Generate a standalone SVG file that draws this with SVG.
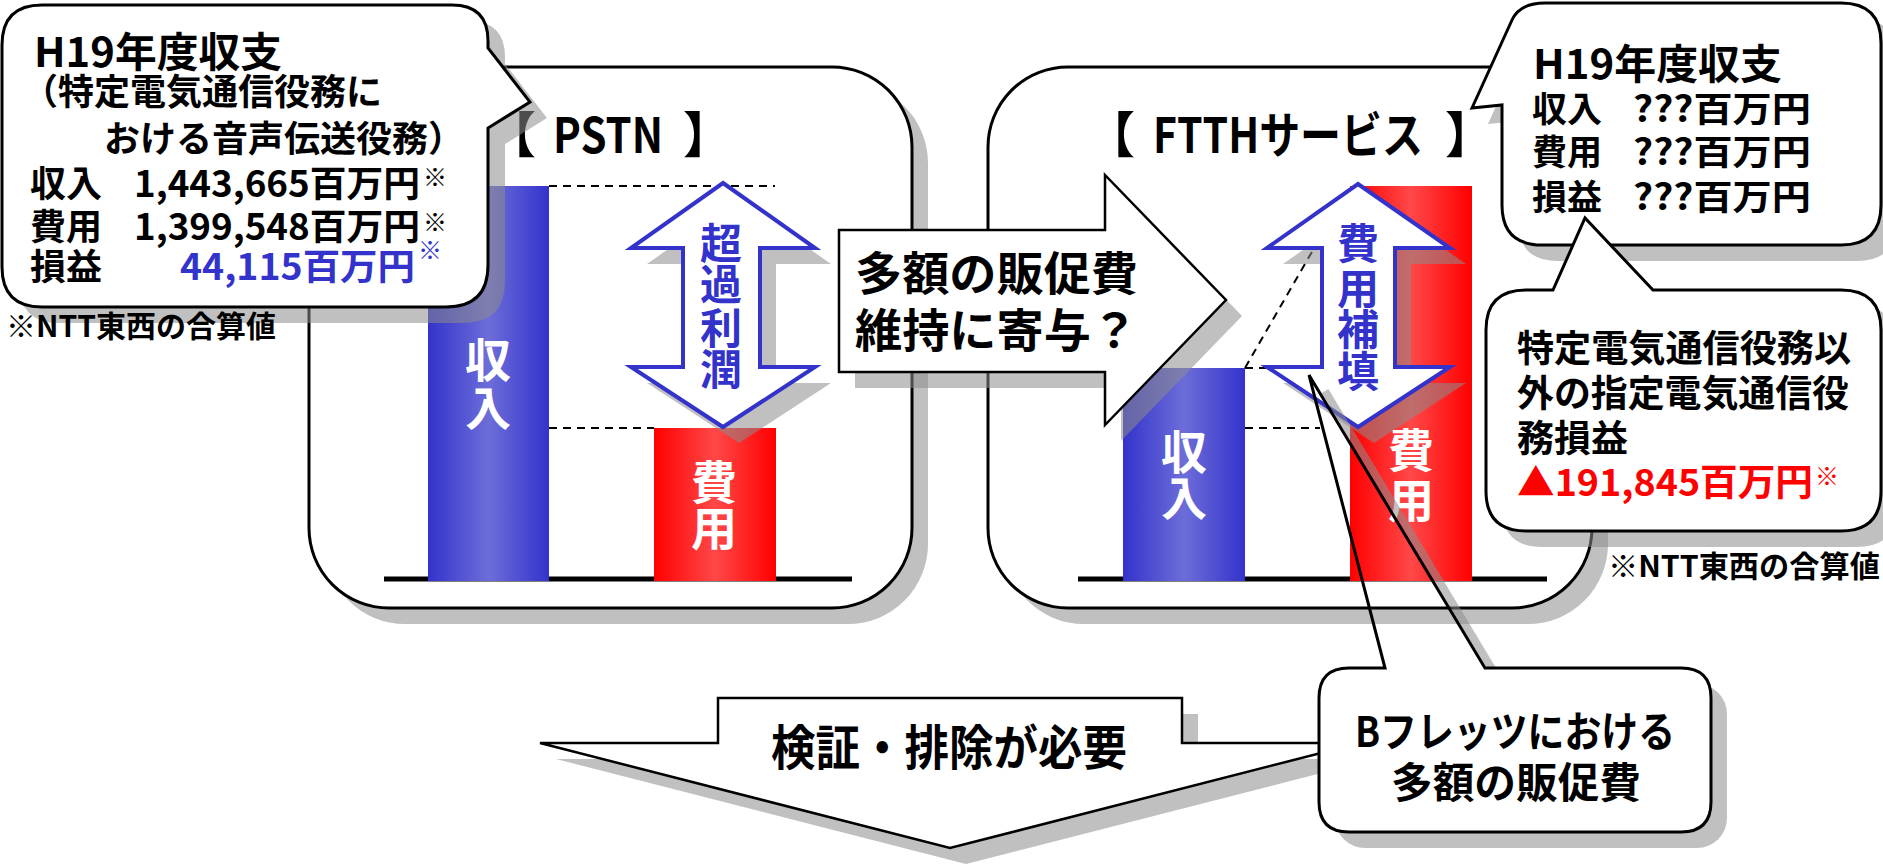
<svg xmlns="http://www.w3.org/2000/svg" width="1883" height="866" viewBox="0 0 1883 866">
<defs>
<linearGradient id="gb" x1="0" x2="1" y1="0" y2="0">
<stop offset="0" stop-color="#3333cc"/><stop offset="0.5" stop-color="#6d6dd9"/><stop offset="1" stop-color="#3333cc"/>
</linearGradient>
<linearGradient id="gr" x1="0" x2="1" y1="0" y2="0">
<stop offset="0" stop-color="#ff0000"/><stop offset="0.5" stop-color="#ff4848"/><stop offset="1" stop-color="#ff0000"/>
</linearGradient>
<style>
text{font-family:"Noto Sans CJK JP","Noto Sans",sans-serif;font-weight:700;fill:#000}
.sh{fill:#8c8c8c;opacity:.55}
.shl{fill:none;stroke:#8c8c8c;opacity:.55;stroke-width:8}
.box{fill:#fff;stroke:#000;stroke-width:3}
.arr{fill:#fff;stroke:#000;stroke-width:2.5}
.darr{fill:#fff;stroke:#3333cc;stroke-width:4;stroke-linejoin:miter}
.base{stroke:#000;stroke-width:5}
.dash{stroke:#000;stroke-width:2;stroke-dasharray:8 6;fill:none}
.w{fill:#fff;font-size:46px;text-anchor:middle}
.bt{fill:#3333cc;font-size:42px;text-anchor:middle}
.bl{fill:#3333cc}
.rd{fill:#ff0000}
.ttl{font-size:49px}
.sup{font-size:24px}
</style>
</defs>
<rect width="1883" height="866" fill="#fff"/>

<!-- PSTN panel -->
<g id="pstn">
<rect class="sh" x="325" y="83" width="603" height="541" rx="80"/>
<rect class="box" x="309" y="67" width="603" height="541" rx="80"/>
<text class="ttl" y="153"><tspan x="487">【</tspan><tspan x="553" textLength="110" lengthAdjust="spacingAndGlyphs">PSTN</tspan><tspan x="683">】</tspan></text>
<line class="base" x1="384" y1="579" x2="852" y2="579"/>
<rect x="428" y="186" width="121" height="395" fill="url(#gb)"/>
<rect x="654" y="428" width="122" height="153" fill="url(#gr)"/>
<path class="dash" d="M549,186H775M549,428H654"/>
<polygon class="sh" transform="translate(16,16)" points="723,183 815,248 760,248 760,367 815,367 723,427 631,367 683,367 683,248 631,248"/>
<polygon class="darr" points="723,183 815,248 760,248 760,367 815,367 723,427 631,367 683,367 683,248 631,248"/>
<text class="bt"><tspan x="721" y="259">超</tspan><tspan x="721" y="300">過</tspan><tspan x="721" y="344">利</tspan><tspan x="721" y="385">潤</tspan></text>
<text class="w"><tspan x="488" y="377">収</tspan><tspan x="488" y="425">入</tspan></text>
<text class="w"><tspan x="714" y="499">費</tspan><tspan x="714" y="545">用</tspan></text>
</g>

<!-- FTTH panel -->
<g id="ftth">
<rect class="sh" x="1004" y="83" width="604" height="541" rx="80"/>
<rect class="box" x="988" y="67" width="604" height="541" rx="80"/>
<text class="ttl" y="153"><tspan x="1086">【</tspan><tspan x="1153" textLength="270" lengthAdjust="spacingAndGlyphs">FTTHサービス</tspan><tspan x="1445">】</tspan></text>
<line class="base" x1="1078" y1="579" x2="1547" y2="579"/>
<rect x="1123" y="368" width="122" height="213" fill="url(#gb)"/>
<rect x="1350" y="186" width="122" height="395" fill="url(#gr)"/>
<path class="dash" d="M1245,368L1313,250M1245,368H1267M1245,428H1320"/>
<polygon class="sh" transform="translate(16,16)" points="1358,184 1450,248 1395,248 1395,367 1450,367 1358,427 1267,367 1322,367 1322,248 1267,248"/>
<polygon class="darr" points="1358,184 1450,248 1395,248 1395,367 1450,367 1358,427 1267,367 1322,367 1322,248 1267,248"/>
<text class="bt"><tspan x="1358" y="259">費</tspan><tspan x="1358" y="304">用</tspan><tspan x="1358" y="345">補</tspan><tspan x="1358" y="387">填</tspan></text>
<text class="w"><tspan x="1184" y="469">収</tspan><tspan x="1184" y="515">入</tspan></text>
<text class="w"><tspan x="1411" y="467">費</tspan><tspan x="1411" y="517">用</tspan></text>
</g>

<!-- left callout -->
<g id="callout-pstn">
<path class="sh" transform="translate(17,16)" d="M42,5H452Q488,5 488,41V48L530,102L488,128V265Q488,307 446,307H42Q2,307 2,267V45Q2,5 42,5Z"/>
<path class="box" d="M42,5H452Q488,5 488,41V48L530,102L488,128V265Q488,307 446,307H42Q2,307 2,267V45Q2,5 42,5Z"/>
<text x="34" y="67" font-size="41" textLength="248" lengthAdjust="spacingAndGlyphs">H19年度収支</text>
<text font-size="36"><tspan x="22" y="105" textLength="360" lengthAdjust="spacingAndGlyphs">（特定電気通信役務に</tspan><tspan x="104" y="152" textLength="360" lengthAdjust="spacingAndGlyphs">おける音声伝送役務）</tspan></text>
<text font-size="36" y="197"><tspan x="30">収入</tspan><tspan x="134" textLength="286" lengthAdjust="spacingAndGlyphs">1,443,665百万円</tspan><tspan class="sup" x="423" y="186">※</tspan></text>
<text font-size="36" y="240"><tspan x="30">費用</tspan><tspan x="134" textLength="286" lengthAdjust="spacingAndGlyphs">1,399,548百万円</tspan><tspan class="sup" x="423" y="231">※</tspan></text>
<text font-size="36" y="280"><tspan x="30">損益</tspan><tspan class="bl" x="180" textLength="235" lengthAdjust="spacingAndGlyphs">44,115百万円</tspan><tspan class="bl sup" x="418" y="259">※</tspan></text>
</g>
<text id="note-left" x="6" y="337" font-size="30" textLength="270" lengthAdjust="spacingAndGlyphs">※NTT東西の合算値</text>

<!-- middle arrow -->
<g id="arrow-mid">
<polygon class="sh" transform="translate(16,16)" points="839,230 1105,230 1105,175 1226,300 1105,425 1105,372 839,372"/>
<polygon class="arr" points="839,230 1105,230 1105,175 1226,300 1105,425 1105,372 839,372"/>
<text font-size="46"><tspan x="855" y="290" textLength="283" lengthAdjust="spacingAndGlyphs">多額の販促費</tspan><tspan x="855" y="347" textLength="283" lengthAdjust="spacingAndGlyphs">維持に寄与？</tspan></text>
</g>

<!-- right top callout -->
<g id="callout-ftth">
<path class="sh" transform="translate(16,16)" d="M1472,108L1512,20Q1520,3 1545,3H1841Q1881,3 1881,43V205Q1881,245 1841,245H1542Q1502,245 1502,205V105Z"/>
<path class="box" d="M1472,108L1512,20Q1520,3 1545,3H1841Q1881,3 1881,43V205Q1881,245 1841,245H1542Q1502,245 1502,205V105Z"/>
<text x="1533" y="79" font-size="41" textLength="249" lengthAdjust="spacingAndGlyphs">H19年度収支</text>
<text font-size="35" y="122"><tspan x="1532">収入</tspan><tspan x="1633" textLength="178" lengthAdjust="spacingAndGlyphs">???百万円</tspan></text>
<text font-size="35" y="165"><tspan x="1532">費用</tspan><tspan x="1633" textLength="178" lengthAdjust="spacingAndGlyphs">???百万円</tspan></text>
<text font-size="35" y="210"><tspan x="1532">損益</tspan><tspan x="1633" textLength="178" lengthAdjust="spacingAndGlyphs">???百万円</tspan></text>
</g>

<!-- right lower callout -->
<g id="callout-other">
<path class="sh" transform="translate(16,16)" d="M1526,290H1553L1585,218L1653,290H1841Q1881,290 1881,330V491Q1881,531 1841,531H1526Q1486,531 1486,491V330Q1486,290 1526,290Z"/>
<path class="box" d="M1526,290H1553L1585,218L1653,290H1841Q1881,290 1881,330V491Q1881,531 1841,531H1526Q1486,531 1486,491V330Q1486,290 1526,290Z"/>
<text font-size="37"><tspan x="1517" y="362" textLength="334" lengthAdjust="spacingAndGlyphs">特定電気通信役務以</tspan><tspan x="1517" y="407" textLength="332" lengthAdjust="spacingAndGlyphs">外の指定電気通信役</tspan><tspan x="1517" y="452" textLength="111" lengthAdjust="spacingAndGlyphs">務損益</tspan></text>
<text class="rd" font-size="37" y="496"><tspan x="1517" textLength="296" lengthAdjust="spacingAndGlyphs">▲191,845百万円</tspan><tspan class="sup" x="1815" y="485">※</tspan></text>
</g>
<text id="note-right" x="1608" y="577" font-size="30" textLength="272" lengthAdjust="spacingAndGlyphs">※NTT東西の合算値</text>

<!-- down arrow -->
<g id="arrow-down">
<polygon class="sh" transform="translate(16,16)" points="718,698 1182,698 1182,743 1360,743 950,848 540,743 718,743"/>
<polygon class="arr" points="718,698 1182,698 1182,743 1360,743 950,848 540,743 718,743"/>
<text x="771" y="765" font-size="48" textLength="356" lengthAdjust="spacingAndGlyphs">検証・排除が必要</text>
</g>

<!-- B flets callout -->
<g id="callout-b">
<rect class="sh" x="1335" y="684" width="392" height="164" rx="30"/>
<polyline class="shl" points="1325,391 1501,684"/>
<rect x="1319" y="668" width="392" height="164" rx="30" fill="#fff"/>
<path d="M1385,668L1309,375L1485,668H1681Q1711,668 1711,698V802Q1711,832 1681,832H1349Q1319,832 1319,802V698Q1319,668 1349,668Z" fill="none" stroke="#000" stroke-width="3"/>
<text font-size="42"><tspan x="1355" y="747" textLength="320" lengthAdjust="spacingAndGlyphs">Bフレッツにおける</tspan><tspan x="1391" y="798" textLength="250" lengthAdjust="spacingAndGlyphs">多額の販促費</tspan></text>
</g>
</svg>
